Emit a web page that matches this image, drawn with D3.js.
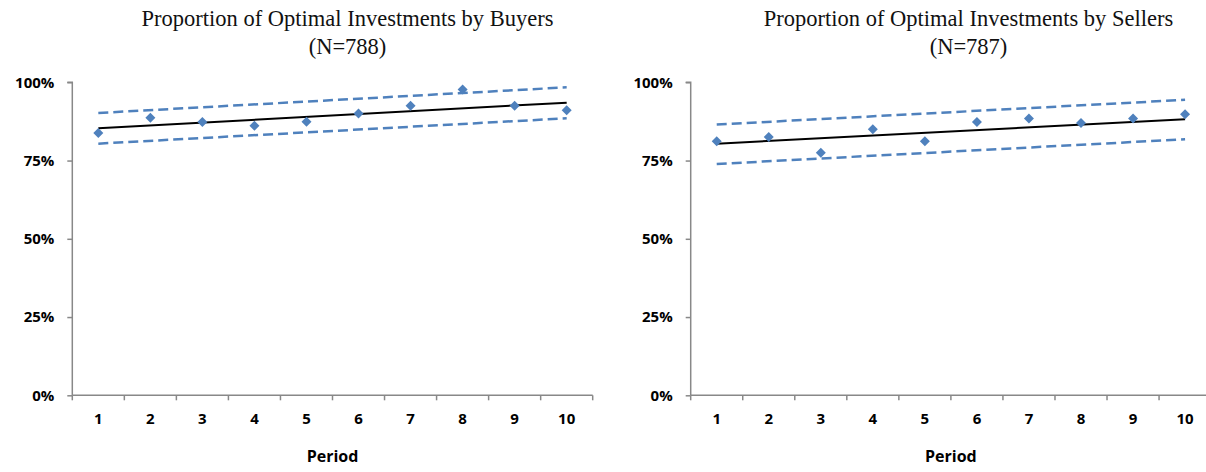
<!DOCTYPE html>
<html>
<head>
<meta charset="utf-8">
<script src="https://cdn.jsdelivr.net/npm/d3@7"></script>
<style>
  html, body { margin: 0; padding: 0; background: #fff; }
  svg { display: block; }
</style>
</head>
<body>
<svg id="chart" width="1206" height="472"></svg>
<script>
// ---- data ----
const periods = [1, 2, 3, 4, 5, 6, 7, 8, 9, 10];
const yTicks = [0, 25, 50, 75, 100];
const yTickLabels = ["0%", "25%", "50%", "75%", "100%"];
const xTitle = "Period";

const buyersTitle = ["Proportion of  Optimal Investments by Buyers", "(N=788)"];
const buyersValues = [83.8, 88.7, 87.3, 86.1, 87.4, 90.0, 92.5, 97.7, 92.5, 91.1];
const buyersTrend = [85.3, 93.5];   // at period 1 and period 10
const buyersUpper = [90.2, 98.4];
const buyersLower = [80.4, 88.5];

const sellersTitle = ["Proportion of  Optimal Investments by Sellers", "(N=787)"];
const sellersValues = [81.2, 82.5, 77.5, 85.0, 81.2, 87.3, 88.4, 87.0, 88.4, 89.8];
const sellersTrend = [80.4, 88.2];
const sellersUpper = [86.5, 94.4];
const sellersLower = [73.9, 81.8];

// ---- drawing ----
const svg = d3.select("#chart");
const blue = "#4F81BD";
const axisColor = "#888888";
const sansFont = "'Open Sans', 'Liberation Sans', sans-serif";
const serifFont = "'Liberation Serif', 'DejaVu Serif', serif";

function panel(opts) {
  const g = svg.append("g");
  const x = d3.scaleBand().domain(periods).range([opts.left, opts.left + 520.4]);
  const y = d3.scaleLinear().domain([0, 100]).range([395.3, 82.3]);
  const cx = d => x(d) + x.bandwidth() / 2;

  // title
  const t = g.append("text")
    .attr("text-anchor", "middle")
    .attr("font-family", serifFont)
    .attr("font-size", 22.5)
    .attr("fill", "#111");
  t.append("tspan").attr("x", opts.titleX).attr("y", 26).text(opts.title[0]);
  t.append("tspan").attr("x", opts.titleX).attr("y", 54).text(opts.title[1]);

  // y axis
  const yAxis = d3.axisLeft(y).tickValues(yTicks).tickSize(5).tickPadding(13)
    .tickFormat((d, i) => yTickLabels[i]);
  const ya = g.append("g").attr("transform", `translate(${opts.left},0)`).call(yAxis);
  ya.select(".domain").attr("stroke", axisColor).attr("stroke-width", 1.5)
    .attr("d", `M-5,${y(100)}H0V${y(0)}`);
  ya.selectAll(".tick line").attr("stroke", axisColor).attr("stroke-width", 1.5);
  ya.selectAll(".tick text").attr("font-family", sansFont).attr("font-weight", "bold")
    .attr("font-size", 15).attr("fill", "#000");

  // x axis: ticks at category boundaries
  const xAxis = d3.axisBottom(x).tickSize(0).tickPadding(18);
  const xa = g.append("g").attr("transform", `translate(0,${y(0)})`).call(xAxis);
  xa.select(".domain").attr("stroke", axisColor).attr("stroke-width", 1.5)
    .attr("d", `M${opts.left},0H${opts.left + 520.4}`);
  xa.selectAll(".tick text").attr("font-family", sansFont).attr("font-weight", "bold")
    .attr("font-size", 15).attr("fill", "#000");
  const bounds = periods.map(p => x(p)).concat([x(periods[periods.length - 1]) + x.bandwidth()]);
  xa.selectAll("line.bound").data(bounds).enter().append("line")
    .attr("class", "bound")
    .attr("x1", d => d).attr("x2", d => d).attr("y1", 0).attr("y2", 5)
    .attr("stroke", axisColor).attr("stroke-width", 1.5);

  // x title
  g.append("text").attr("x", (opts.left + opts.left + 520.4) / 2).attr("y", 462)
    .attr("text-anchor", "middle").attr("font-family", sansFont).attr("font-weight", "bold")
    .attr("font-size", 16).attr("fill", "#000").text(xTitle);

  const ends = [periods[0], periods[periods.length - 1]];
  const line2 = (vals) => d3.line().x((d, i) => cx(ends[i])).y(d => y(d))(vals);

  // confidence bounds (dashed)
  [opts.upper, opts.lower].forEach(vals => {
    g.append("path").attr("d", line2(vals)).attr("fill", "none")
      .attr("stroke", blue).attr("stroke-width", 2.5).attr("stroke-dasharray", "10,5");
  });

  // trend line
  g.append("path").attr("d", line2(opts.trend)).attr("fill", "none")
    .attr("stroke", "#000").attr("stroke-width", 2);

  // points
  g.selectAll("path.pt").data(opts.values).enter().append("path")
    .attr("class", "pt")
    .attr("d", "M0,-5L5,0L0,5L-5,0Z")
    .attr("transform", (d, i) => `translate(${cx(periods[i])},${y(d)})`)
    .attr("fill", blue);
}

panel({ left: 72.3, titleX: 347.5, title: buyersTitle, values: buyersValues,
        trend: buyersTrend, upper: buyersUpper, lower: buyersLower });
panel({ left: 690.7, titleX: 968.5, title: sellersTitle, values: sellersValues,
        trend: sellersTrend, upper: sellersUpper, lower: sellersLower });
</script>
</body>
</html>
